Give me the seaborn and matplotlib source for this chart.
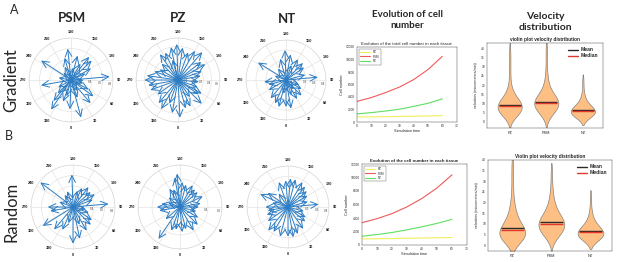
import numpy as np
import pandas as pd
import matplotlib
matplotlib.use("Agg")
import matplotlib.pyplot as plt
from matplotlib.lines import Line2D
import seaborn as sns

# ---- compass plots: angle as labelled on the dial (deg), magnitude
psm_grad_ang = [95, 237, 186, 142, 133, 165, 196, 280, 326, 320, 358, 15, 40, 54, 62,
                315, 300, 114, 88, 150, 205, 225, 260, 20, 75, 345, 170, 120, 340, 30]
psm_grad_mag = [.74, .68, .60, .56, .54, .48, .44, .58, .68, .52, .56, .74, .58, .53, .38,
                .36, .28, .30, .24, .36, .28, .20, .24, .36, .24, .32, .24, .44, .44, .24]
pz_grad_ang = [182, 192, 172, 205, 215, 139, 150, 160, 270, 262, 280, 290, 250, 240, 350, 3, 15,
               330, 320, 340, 25, 45, 55, 100, 110, 120, 128, 85, 70, 60, 225, 305, 35, 195]
pz_grad_mag = [.43, .40, .39, .36, .375, .44, .40, .35, .40, .375, .36, .35, .30, .25, .40, .45, .35,
               .40, .36, .30, .35, .40, .30, .275, .30, .375, .35, .25, .25, .325, .275, .30, .25, .25]
nt_grad_ang = [238, 182, 170, 195, 150, 135, 125, 95, 105, 275, 285, 300, 320, 335, 345, 0, 10,
               30, 45, 60, 70, 215, 250, 160, 20, 350, 40]
nt_grad_mag = [.33, .30, .26, .22, .24, .24, .22, .32, .20, .22, .18, .20, .24, .26, .28, .27, .29,
               .22, .22, .18, .14, .14, .12, .16, .16, .14, .12]
psm_rand_ang = [233, 182, 142, 130, 155, 95, 110, 120, 270, 280, 302, 320, 335, 0, 12, 30, 45,
                55, 200, 215, 165, 345, 70, 80, 250, 20]
psm_rand_mag = [.78, .62, .48, .44, .40, .68, .40, .48, .48, .44, .68, .56, .48, .70, .62, .52, .48,
                .44, .32, .28, .32, .32, .32, .24, .28, .36]
pz_rand_ang = [185, 190, 175, 165, 200, 210, 150, 140, 130, 115, 100, 90, 270, 280, 260, 326,
               340, 350, 5, 15, 30, 45, 60, 75, 230, 250, 310]
pz_rand_mag = [.48, .43, .36, .33, .27, .30, .36, .33, .33, .36, .30, .27, .33, .30, .27, .55,
               .36, .33, .36, .33, .39, .36, .30, .24, .21, .18, .27]
nt_rand_ang = [245, 235, 200, 185, 175, 165, 150, 140, 130, 120, 95, 105, 270, 280, 290, 305,
               320, 330, 345, 0, 10, 20, 35, 50, 60, 75, 215, 255]
nt_rand_mag = [.30, .24, .26, .26, .28, .28, .28, .26, .24, .22, .30, .20, .22, .20, .22, .24,
               .30, .28, .30, .29, .30, .28, .26, .22, .20, .16, .16, .16]

# ---- cell number over simulation time
sim_time = [0, 10, 20, 30, 40, 50, 60]
grad_pz = [800, 830, 860, 890, 930, 970, 1010]
grad_psm = [3300, 3900, 4700, 5600, 6800, 8400, 10500]
grad_nt = [1300, 1500, 1750, 2050, 2500, 3000, 3700]
rand_pz = [900, 930, 960, 1000, 1040, 1070, 1100]
rand_psm = [3300, 3900, 4650, 5650, 6900, 8450, 10400]
rand_nt = [1300, 1550, 1850, 2250, 2700, 3200, 3800]

# ---- velocity histograms (counts per 2 um/min bin), means and medians
tissues = ["PZ", "PSM", "NT"]
vel_bins = [0, 2, 4, 6, 8, 10, 12, 14, 16, 18, 20, 22, 24, 26, 28, 30, 32, 34, 36, 38, 40, 42]
grad_pz_counts = [1, 6, 13, 18, 20, 18, 13, 8, 5, 3, 2, 1, 1, 1, 1, 1, 1, 1, 1, 1, 1, 0]
grad_psm_counts = [1, 4, 9, 14, 19, 21, 19, 14, 9, 6, 4, 3, 2, 2, 1, 1, 1, 1, 1, 1, 1, 1]
grad_nt_counts = [2, 10, 20, 22, 16, 9, 5, 3, 2, 1, 1, 1, 1, 0, 0, 0, 0, 0, 0, 0, 0, 0]
rand_pz_counts = [3, 12, 20, 19, 14, 10, 7, 5, 4, 3, 2, 2, 1, 1, 1, 1, 1, 1, 1, 1, 1, 0]
rand_psm_counts = [1, 4, 9, 14, 18, 19, 16, 12, 8, 6, 4, 3, 2, 2, 1, 1, 1, 1, 1, 0, 0, 0]
rand_nt_counts = [2, 10, 20, 21, 15, 9, 5, 3, 2, 1, 1, 1, 1, 0, 0, 0, 0, 0, 0, 0, 0, 0]
grad_mean = [9.0, 10.8, 6.3]
grad_median = [8.6, 10.2, 6.0]
rand_mean = [7.9, 10.9, 6.4]
rand_median = [7.0, 9.8, 6.1]

W, H = 617, 262
ARROW = "#2b7cc4"
SMALL = ["Liberation Sans", "DejaVu Sans"]

sns.set_theme(style="white")
plt.rcParams["font.family"] = SMALL


def px_axes(fig, x0, y0, x1, y1, **kw):
    return fig.add_axes([x0 / W, 1 - y1 / H, (x1 - x0) / W, (y1 - y0) / H], **kw)


def compass(fig, cx, cy, r, ang, mag, rticks):
    ax = px_axes(fig, cx - r, cy - r, cx + r, cy + r, projection="polar")
    rmax = rticks[-1]
    ax.set_theta_zero_location("S")
    ax.set_theta_direction(1)
    ax.set_ylim(0, rmax)
    ax.set_thetagrids(range(0, 360, 30), labels=[])
    ax.set_rgrids(rticks, labels=[])
    ax.grid(color="#e0dcd8", lw=0.4)
    ax.spines["polar"].set_color("#d6d2ce")
    ax.spines["polar"].set_linewidth(0.4)
    ax.set_facecolor("white")
    for a in range(0, 360, 30):
        ax.text(np.deg2rad(a), rmax * 1.14, str(a), fontsize=2.8, fontweight="bold",
                ha="center", va="center", clip_on=False, color="#222222")
    for t in rticks:
        ax.text(np.deg2rad(84), t * 0.93, f"{t:.1f}", fontsize=2.2, ha="center",
                va="center", clip_on=False, color="#444444")
    for a, m in zip(ang, mag):
        ax.annotate("", xy=(np.deg2rad(a), m), xytext=(0, 0),
                    arrowprops=dict(arrowstyle="->,head_length=0.42,head_width=0.2",
                                    color=ARROW, lw=0.7, shrinkA=0, shrinkB=0))
    return ax


def growth(fig, box, pz, psm, nt, title, bold):
    ax = px_axes(fig, *box)
    df = pd.DataFrame({"time": sim_time * 3,
                       "cells": pz + psm + nt,
                       "tissue": ["PZ"] * 7 + ["PSM"] * 7 + ["NT"] * 7})
    sns.lineplot(data=df, x="time", y="cells", hue="tissue", ax=ax, lw=0.8,
                 palette={"PZ": "#f2ef5c", "PSM": "#f05a5a", "NT": "#5fe05f"})
    ax.set_xlim(0, 70)
    ax.set_ylim(0, 12000)
    ax.set_xticks(range(0, 71, 10))
    ax.set_yticks(range(0, 12001, 2000))
    ax.tick_params(labelsize=2.3, direction="in", length=1.2, width=0.3, pad=1.5)
    ax.set_xlabel("Simulation time", fontsize=2.8, labelpad=1)
    ax.set_ylabel("Cell number", fontsize=2.8, labelpad=1.5)
    ax.set_title(title, fontsize=3.2, pad=1.5, fontweight="bold" if bold else "normal")
    for s in ax.spines.values():
        s.set_linewidth(0.3)
        s.set_color("#333333")
    ax.legend(loc="upper left", fontsize=2.2, frameon=True, fancybox=False,
              edgecolor="#333333", handlelength=3.5, borderpad=0.4, labelspacing=0.25,
              handletextpad=0.8, borderaxespad=0.5).get_frame().set_linewidth(0.3)


def velocity(fig, box, counts, means, medians, ylim, title):
    ax = px_axes(fig, *box)
    rows = []
    for t, c in zip(tissues, counts):
        for v in np.repeat(vel_bins, c):
            rows.append((t, v))
    df = pd.DataFrame(rows, columns=["tissue", "velocity"])
    sns.violinplot(data=df, x="tissue", y="velocity", order=tissues, color="#fdbf84",
                   saturation=1, inner=None, cut=1.0, density_norm="width", width=0.66,
                   linewidth=0.45, linecolor="#7a7a7a", ax=ax)
    for i in range(3):
        ax.hlines(means[i], i - 0.3, i + 0.3, color="#2a2a2a", lw=1.0, zorder=5)
        ax.hlines(medians[i], i - 0.3, i + 0.3, color="#e2372d", lw=1.0, zorder=5)
    ax.set_ylim(*ylim)
    ax.set_xlim(-0.62, 2.55)
    ax.set_yticks(range(0, 41, 5))
    ax.tick_params(axis="y", labelsize=2.3, direction="in", length=1.2, width=0.3, pad=1.5)
    ax.tick_params(axis="x", labelsize=2.8, length=0, pad=2.5)
    ax.set_xlabel("")
    ax.set_ylabel("velocities (micrometers/min)", fontsize=2.6, labelpad=2)
    ax.set_title(title, fontsize=3.4, pad=1.5, fontweight="bold")
    for s in ax.spines.values():
        s.set_linewidth(0.3)
        s.set_color("#333333")
    handles = [Line2D([], [], color="#2a2a2a", lw=1.0), Line2D([], [], color="#e2372d", lw=1.0)]
    ax.legend(handles, ["Mean", "Median"], loc="upper right", frameon=False,
              prop={"size": 3.6, "weight": "bold"}, handlelength=2, labelspacing=0.2,
              handletextpad=0.6, borderaxespad=0.5)


fig = plt.figure(figsize=(W / 100, H / 100), dpi=100)
fig.patch.set_facecolor("white")

compass(fig, 71, 80, 42, psm_grad_ang, psm_grad_mag, [0.2, 0.4, 0.6, 0.8])
compass(fig, 178, 80, 42, pz_grad_ang, pz_grad_mag, [0.1, 0.2, 0.3, 0.4, 0.5])
compass(fig, 286, 80, 40, nt_grad_ang, nt_grad_mag, [0.1, 0.2, 0.3, 0.4])
compass(fig, 73, 207, 42, psm_rand_ang, psm_rand_mag, [0.2, 0.4, 0.6, 0.8])
compass(fig, 180, 207, 42, pz_rand_ang, pz_rand_mag, [0.2, 0.4, 0.6])
compass(fig, 288, 207, 41, nt_rand_ang, nt_rand_mag, [0.1, 0.2, 0.3, 0.4])

growth(fig, (357, 47, 456.5, 122), grad_pz, grad_psm, grad_nt,
       "Evolution of the total cell number in each tissue", False)
growth(fig, (362, 164, 467, 245), rand_pz, rand_psm, rand_nt,
       "Evolution of the cell number in each tissue", True)

velocity(fig, (487, 43, 603, 128), [grad_pz_counts, grad_psm_counts, grad_nt_counts],
         grad_mean, grad_median, (-3.4, 42.9), "violin plot velocity distribution")
velocity(fig, (488, 160, 612, 251), [rand_pz_counts, rand_psm_counts, rand_nt_counts],
         rand_mean, rand_median, (-2.8, 39.3), "Violin plot velocity distribution")

BIG = ["Lato", "DejaVu Sans"]


def label(x, y, s, **kw):
    fig.text(x / W, 1 - y / H, s, ha="center", va="center", family=BIG, **kw)


label(14, 10, "A", fontsize=9)
label(9, 136, "B", fontsize=9)
label(72, 18, "PSM", fontsize=9.5, fontweight="bold")
label(178, 18, "PZ", fontsize=9.5, fontweight="bold")
label(287, 19, "NT", fontsize=9.5, fontweight="bold")
label(407, 20, "Evolution of cell\nnumber", fontsize=7, fontweight="bold", linespacing=1.25)
label(545, 22, "Velocity\ndistribution", fontsize=7.5, fontweight="bold", linespacing=1.25)
label(11, 80, "Gradient", fontsize=12, rotation=90)
label(11, 212, "Random", fontsize=12, rotation=90)

fig.savefig("out.png", dpi=100, facecolor="white")
